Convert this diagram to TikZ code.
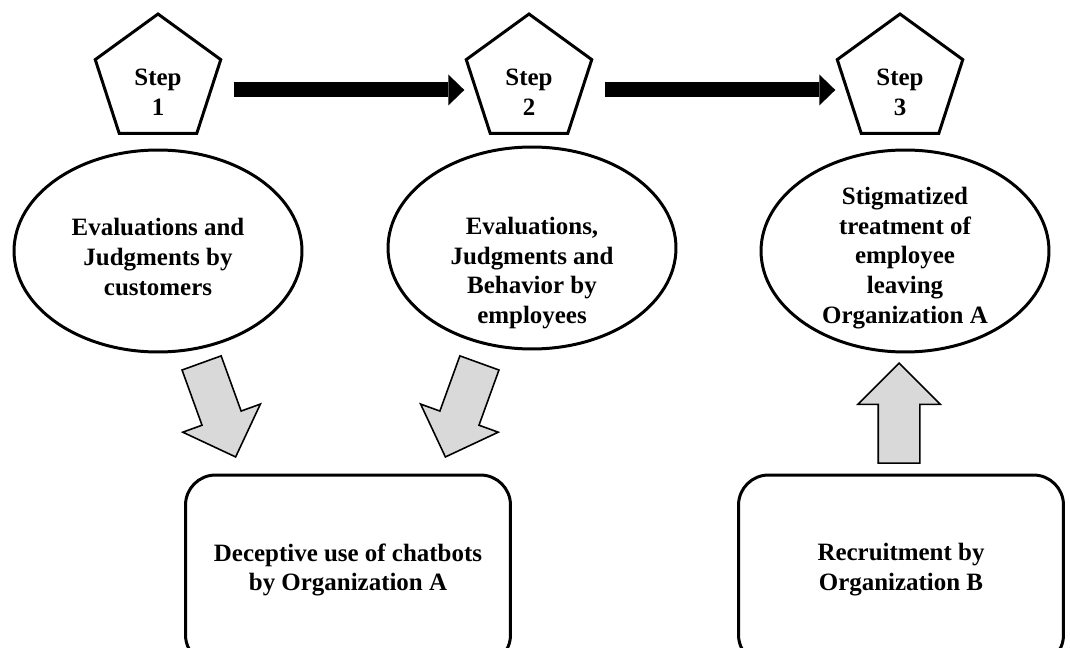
\documentclass[tikz,border=0pt]{standalone}
\usepackage{fontspec}
\setmainfont{Liberation Serif}
\usetikzlibrary{shapes.geometric,shapes.arrows,arrows.meta}
\definecolor{arrowgray}{RGB}{217,217,217}
\tikzset{
    every node/.style={font=\bfseries\fontsize{14.2}{17}\selectfont,
    	align=center}
}
\tikzset{
    pent/.style={regular polygon, regular polygon sides=5, draw,
    	line width=1.7pt, minimum size=2.64cm, inner sep=0pt},
    ell/.style={ellipse, draw, line width=1.7pt, minimum width=5.76cm,
    	minimum height=4.04cm, inner sep=0pt},
    box/.style={rectangle, rounded corners=0.6cm, draw, line width=1.7pt,
    	minimum width=6.5cm, minimum height=3.8cm}
}
\tikzset{
    bigarrow/.style={line width=0.3cm, shorten <=0.36cm, shorten >=0.14cm,
    	-{Triangle[length=0.32cm,width=0.62cm,line width=0pt]}},
    garrow/.style={single arrow, draw, line width=0.9pt, fill=arrowgray,
    	minimum height=2cm, minimum width=1.62cm,
    	single arrow head extend=0.41cm, inner xsep=0pt, inner ysep=0.4cm,
    	anchor=tip}
}

\begin{document}
\begin{tikzpicture}[x=0.02cm, y=-0.02cm]
	\useasboundingbox (0,0) rectangle (1070,648);
	\clip (0,0) rectangle (1070,648);
	% steps
	\node [pent, label={[yshift=-0.24cm]center:Step\\1}] (s1) at (158,80) {};
	\node [pent, label={[yshift=-0.24cm]center:Step\\2}] (s2) at (529,80) {};
	\node [pent, label={[yshift=-0.24cm]center:Step\\3}] (s3) at (900,80) {};
	\draw [bigarrow] ([yshift=-0.2cm]s1.east) -- ([yshift=-0.2cm]s2.west);
	\draw [bigarrow] ([yshift=-0.2cm]s2.east) -- ([yshift=-0.2cm]s3.west);
	% ellipses
	\node [ell, label={[yshift=-0.12cm]center:Evaluations and\\Judgments by\\customers}] (e1) at (158,251) {};
	\node [ell, label={[yshift=-0.5cm]center:Evaluations,\\Judgments and\\Behavior by\\employees}] (e2) at (532,248) {};
	\node [ell, label={[yshift=-0.14cm]center:Stigmatized\\treatment of\\employee\\leaving\\Organization A}] (e3) at (905,251) {};
	% organizations
	\node [box] (b1) at (348,570) {Deceptive use of chatbots\\by Organization A};
	\node [box] (b2) at (901,570) {Recruitment by\\Organization B};
	\node [garrow, rotate=-70.1] (g1) at (236,458) {};
	\node [garrow, rotate=-109.9] (g2) at (445,458) {};
	\node [garrow, rotate=90] (g3) at (899,362) {};
\end{tikzpicture}
\end{document}
